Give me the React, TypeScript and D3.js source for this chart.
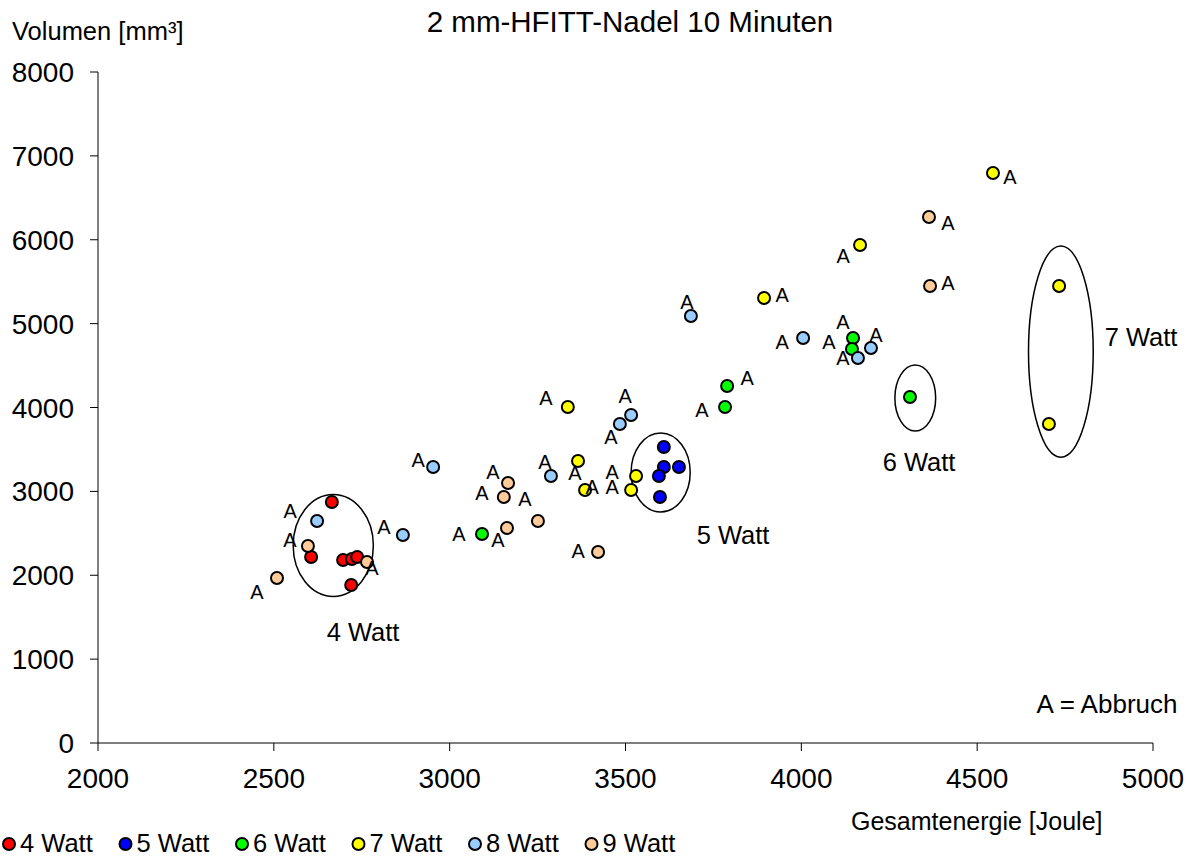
import React from "react";
import * as d3 from "d3";

// ---------- data ----------
const xTicks = [2000, 2500, 3000, 3500, 4000, 4500, 5000];
const yTicks = [0, 1000, 2000, 3000, 4000, 5000, 6000, 7000, 8000];

const seriesNames = ["4 Watt", "5 Watt", "6 Watt", "7 Watt", "8 Watt", "9 Watt"];
const seriesColors = ["#FF0000", "#0000FF", "#00FF00", "#FFFF00", "#99CCFF", "#FFCC99"];

const energy4 = [2665, 2606, 2697, 2722, 2737, 2720];
const volume4 = [2873, 2218, 2182, 2194, 2218, 1884];
const abbruch4 = [0, 0, 0, 0, 0, 0];

const energy5 = [3609, 3609, 3652, 3595, 3598];
const volume5 = [3529, 3291, 3291, 3183, 2933];
const abbruch5 = [0, 0, 0, 0, 0];

const energy6 = [3092, 3789, 3783, 4147, 4144, 4309];
const volume6 = [2492, 4256, 4006, 4829, 4698, 4125];
const abbruch6 = [1, 1, 1, 1, 1, 0];

const energy7 = [4545, 4167, 3894, 4733, 4704, 3336, 3365, 3385, 3530, 3516];
const volume7 = [6796, 5938, 5306, 5449, 3803, 4006, 3362, 3017, 3183, 3017];
const abbruch7 = [1, 1, 1, 0, 0, 1, 1, 1, 1, 1];

const energy8 = [2623, 2867, 2953, 3288, 3484, 3516, 3686, 4005, 4198, 4161];
const volume8 = [2647, 2480, 3291, 3183, 3803, 3911, 5091, 4829, 4710, 4590];
const abbruch8 = [1, 1, 1, 1, 1, 1, 1, 1, 1, 1];

const energy9 = [2509, 2597, 2765, 3166, 3154, 3163, 3251, 3422, 4363, 4366];
const volume9 = [1967, 2349, 2158, 3100, 2933, 2563, 2647, 2277, 6272, 5449];
const abbruch9 = [1, 1, 1, 1, 1, 1, 1, 1, 1, 1];

// group ellipses (data units): centre energy, centre volume, half-width energy, half-height volume
const groupLabels = ["4 Watt", "5 Watt", "6 Watt", "7 Watt"];
const groupCx = [2669, 3600, 4324, 4738];
const groupCy = [2355, 3225, 4113, 4666];
const groupRx = [114, 84, 58, 92];
const groupRy = [608, 471, 393, 1258];

// ---------- layout (not data) ----------
const labelOffsets: [number, number][][] = [
  [],
  [],
  [[-23, 0], [20, -9], [-23, 3], [-10, -16], [-23, -7], [0, 0]],
  [[17, 4], [-17, 11], [18, -3], [0, 0], [0, 0], [-22, -9], [-3, 11], [7, -3], [-24, -5], [-19, -3]],
  [[-27, -10], [-19, -8], [-15, -7], [-6, -15], [-9, 12], [-6, -19], [-4, -14], [-21, 4], [5, -13], [-15, -1]],
  [[-20, 13], [-18, -6], [5, 6], [-15, -11], [-22, -4], [-9, 11], [-13, -22], [-20, -2], [19, 6], [18, -3]],
];
const groupLabelPos: [number, number][] = [[363, 641], [733, 544], [919, 471], [1141, 346]];

const W = 1196;
const H = 859;
const FONT = "'Liberation Sans', Arial, Helvetica, sans-serif";

export default function App() {
  const x = d3.scaleLinear().domain([2000, 5000]).range([98, 1153]);
  const y = d3.scaleLinear().domain([0, 8000]).range([743, 72]);

  const energies = [energy4, energy5, energy6, energy7, energy8, energy9];
  const volumes = [volume4, volume5, volume6, volume7, volume8, volume9];
  const abbruchs = [abbruch4, abbruch5, abbruch6, abbruch7, abbruch8, abbruch9];

  const series = seriesNames.map((name, s) => ({
    name,
    color: seriesColors[s],
    points: energies[s].map((e, i) => ({ e, v: volumes[s][i], a: abbruchs[s][i], off: labelOffsets[s][i] })),
  }));

  return (
    <svg width={W} height={H} style={{ position: "absolute", left: 0, top: 0, background: "#fff" }} fontFamily={FONT}>
      <rect width={W} height={H} fill="#fff" />
      {/* title */}
      <text x={630} y={32} fontSize={29.5} textAnchor="middle" fill="#000">2 mm-HFITT-Nadel 10 Minuten</text>
      <text x={12} y={40} fontSize={25.5} fill="#000">Volumen [mm³]</text>

      {/* axes */}
      <line x1={x(2000)} x2={x(2000)} y1={y(0)} y2={y(8000)} stroke="#000" strokeWidth={1} />
      <line x1={x(2000)} x2={x(5000)} y1={y(0)} y2={y(0)} stroke="#000" strokeWidth={1} />
      {yTicks.map((t) => (
        <g key={"y" + t}>
          <line x1={x(2000) - 8} x2={x(2000)} y1={y(t)} y2={y(t)} stroke="#000" />
          <text x={74} y={y(t) + 10} fontSize={28} textAnchor="end" fill="#000">{t}</text>
        </g>
      ))}
      {xTicks.map((t) => (
        <g key={"x" + t}>
          <line x1={x(t)} x2={x(t)} y1={y(0)} y2={y(0) + 8} stroke="#000" />
          <text x={x(t)} y={788} fontSize={28} textAnchor="middle" fill="#000">{t}</text>
        </g>
      ))}
      <text x={851} y={830} fontSize={25} fill="#000">Gesamtenergie [Joule]</text>

      {/* group ellipses */}
      {groupLabels.map((g, i) => (
        <g key={g}>
          <ellipse
            cx={x(groupCx[i])}
            cy={y(groupCy[i])}
            rx={x(groupCx[i] + groupRx[i]) - x(groupCx[i])}
            ry={y(groupCy[i]) - y(groupCy[i] + groupRy[i])}
            fill="none"
            stroke="#000"
            strokeWidth={1.5}
          />
          <text x={groupLabelPos[i][0]} y={groupLabelPos[i][1]} fontSize={25.5} textAnchor="middle" fill="#000">{g}</text>
        </g>
      ))}

      {/* markers */}
      {series.map((s) => (
        <g key={s.name}>
          {s.points.map((p, i) => (
            <circle key={i} cx={x(p.e)} cy={y(p.v)} r={6} fill={s.color} stroke="#000" strokeWidth={2} />
          ))}
        </g>
      ))}
      {/* abbruch labels */}
      {series.map((s) => (
        <g key={"l" + s.name}>
          {s.points.map((p, i) =>
            p.a ? (
              <text key={i} x={x(p.e) + p.off[0]} y={y(p.v) + p.off[1] + 7.5} fontSize={20} textAnchor="middle" fill="#000">A</text>
            ) : null
          )}
        </g>
      ))}

      <text x={1107} y={713} fontSize={26} textAnchor="middle" fill="#000">A = Abbruch</text>

      {/* legend */}
      {series.map((s, i) => (
        <g key={"lg" + s.name}>
          <circle cx={9 + i * 116.5} cy={844} r={6} fill={s.color} stroke="#000" strokeWidth={2} />
          <text x={20 + i * 116.5} y={852} fontSize={25.5} fill="#000">{s.name}</text>
        </g>
      ))}
    </svg>
  );
}
